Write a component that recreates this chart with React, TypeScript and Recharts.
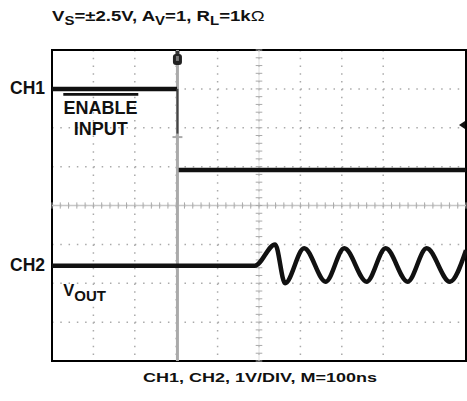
import { LineChart, Line, XAxis, YAxis, CartesianGrid, ReferenceLine, ReferenceArea, ReferenceDot } from 'recharts';

// scope screen: 10 div x 100ns, 8 div x 1V (volts shown in divisions, centre = 0)
const timeTicks = [0, 100, 200, 300, 400, 500, 600, 700, 800, 900, 1000];
const voltTicks = [-4, -3, -2, -1, 0, 1, 2, 3, 4];

// CH1: ENABLE input (high, then falls at the trigger)
const ch1High = [
  { t: 0, v: 3.0 },
  { t: 302, v: 3.0 },
];
const ch1Edge = [
  { t: 303, v: 3.0 },
  { t: 303, v: 1.85 },
];
const ch1Low = [
  { t: 306, v: 0.91 },
  { t: 1000, v: 0.91 },
];

// CH2: VOUT, flat then ringing
const ch2Out = [
  { t: 0, v: -1.55 },
  { t: 490, v: -1.55 },
  { t: 539, v: -1.0 },
  { t: 563, v: -2.0 },
  { t: 609, v: -1.1 },
  { t: 661, v: -1.96 },
  { t: 706, v: -1.1 },
  { t: 760, v: -1.96 },
  { t: 806, v: -1.1 },
  { t: 859, v: -1.96 },
  { t: 905, v: -1.1 },
  { t: 961, v: -1.96 },
  { t: 1000, v: -1.15 },
];

const triggerTime = 303;
const triggerLevel = 2.07;
const cursorMark = 1.76;

const minorTimes = Array.from({ length: 51 }, (_, i) => i * 20);
const minorVolts = Array.from({ length: 41 }, (_, i) => -4 + i * 0.2);

const font = '"Liberation Sans", Arial, sans-serif';

const TopMarker = (props: any) => {
  const { cx, cy } = props;
  return (
    <g>
      <rect x={cx - 2} y={cy - 8} width={4} height={4} fill="#333" />
      <rect x={cx - 4.5} y={cy - 5} width={9} height={11} rx={3} fill="#222" />
      <rect x={cx - 1.5} y={cy - 3} width={3} height={5} fill="#777" />
    </g>
  );
};

const LevelMarker = (props: any) => {
  const { cx, cy } = props;
  return <polygon points={`${cx - 7},${cy} ${cx - 1},${cy - 4} ${cx - 1},${cy + 4}`} fill="#111" />;
};

export default function App() {
  return (
    <div style={{ position: 'absolute', left: 0, top: 0, width: 467, height: 401, background: '#fff' }}>
      <LineChart width={467} height={401} margin={{ top: 50, right: 1, bottom: 40, left: 52 }}>
        <XAxis dataKey="t" type="number" domain={[0, 1000]} ticks={timeTicks} hide />
        <YAxis type="number" domain={[-4, 4]} ticks={voltTicks} hide />
        <CartesianGrid horizontal={true} vertical={false} stroke="#aaa" strokeWidth={1.5} strokeDasharray="1.5 6.78" />
        <CartesianGrid horizontal={false} vertical={true} stroke="#aaa" strokeWidth={1.5} strokeDasharray="1.5 6.28" />
        <ReferenceLine y={0} stroke="#c8c8c8" strokeWidth={1.5} />
        <ReferenceLine x={500} stroke="#ddd" strokeWidth={1} />
        {minorTimes.map((t) => (
          <ReferenceLine
            key={'mt' + t}
            segment={[{ x: t, y: -0.08 }, { x: t, y: 0.08 }]}
            stroke="#aaa"
            strokeWidth={1}
          />
        ))}
        {minorVolts.map((v) => (
          <ReferenceLine
            key={'mv' + v.toFixed(1)}
            segment={[{ x: 492, y: v }, { x: 508, y: v }]}
            stroke="#aaa"
            strokeWidth={1}
          />
        ))}
        <ReferenceLine x={triggerTime} stroke="#aaa" strokeWidth={3} />
        <ReferenceLine
          segment={[{ x: triggerTime - 12, y: cursorMark }, { x: triggerTime + 12, y: cursorMark }]}
          stroke="#aaa"
          strokeWidth={2}
        />
        <Line data={ch1High} dataKey="v" type="linear" stroke="#111" strokeWidth={4.5} dot={false} isAnimationActive={false} />
        <Line data={ch1Edge} dataKey="v" type="linear" stroke="#444" strokeWidth={2} dot={false} isAnimationActive={false} />
        <Line data={ch1Low} dataKey="v" type="linear" stroke="#111" strokeWidth={4.5} dot={false} isAnimationActive={false} />
        <Line data={ch2Out} dataKey="v" type="monotone" stroke="#111" strokeWidth={4.5} dot={false} isAnimationActive={false} />
        <ReferenceArea x1={0} x2={1000} y1={-4} y2={4} fill="none" fillOpacity={0} stroke="#000" strokeWidth={2} ifOverflow="visible" />
        <ReferenceDot x={triggerTime} y={3.77} shape={TopMarker} ifOverflow="visible" />
        <ReferenceDot x={1000} y={triggerLevel} shape={LevelMarker} ifOverflow="visible" />
      </LineChart>
      <svg width={467} height={401} style={{ position: 'absolute', left: 0, top: 0, pointerEvents: 'none' }} fontFamily={font} fontWeight="bold" fill="#111">
        <g transform="translate(52,21) scale(1.2,1)">
          <text x={0} y={0} fontSize={15.5}>
            V<tspan fontSize={12.5} dy={4}>S</tspan>
            <tspan dy={-4}>=±2.5V, A</tspan>
            <tspan fontSize={12.5} dy={4}>V</tspan>
            <tspan dy={-4}>=1, R</tspan>
            <tspan fontSize={12.5} dy={4}>L</tspan>
            <tspan dy={-4}>=1k</tspan>
            <tspan fontWeight="normal">Ω</tspan>
          </text>
        </g>
        <text x={10} y={93.5} fontSize={17.5}>CH1</text>
        <text x={10} y={271} fontSize={17.5}>CH2</text>
        <line x1={63.3} x2={138.3} y1={94.3} y2={94.3} stroke="#111" strokeWidth={2.7} />
        <text x={100.5} y={114} fontSize={18} textAnchor="middle">ENABLE</text>
        <text x={100.8} y={135} fontSize={18} textAnchor="middle">INPUT</text>
        <text x={63.3} y={295.5} fontSize={16.5}>
          V<tspan fontSize={15} dy={5}>OUT</tspan>
        </text>
        <text x={143} y={382} fontSize={13.5} textLength={234} lengthAdjust="spacingAndGlyphs">CH1, CH2, 1V/DIV, M=100ns</text>
      </svg>
    </div>
  );
}
